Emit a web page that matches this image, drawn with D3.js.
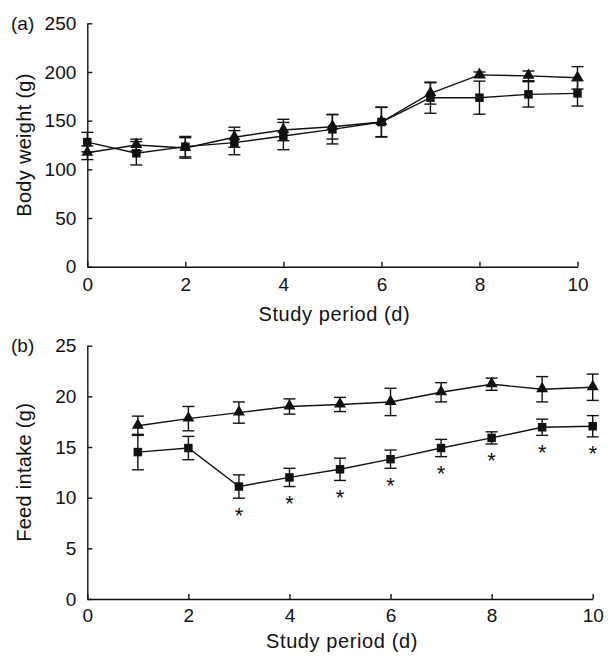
<!DOCTYPE html>
<html>
<head>
<meta charset="utf-8">
<script src="https://cdn.jsdelivr.net/npm/d3@7"></script>
<style>
  html, body { margin: 0; padding: 0; background: #fff; }
  svg { display: block; }
  text { font-family: "Liberation Sans", Arial, Helvetica, sans-serif; fill: #111; }
</style>
</head>
<body>
<svg id="chart" width="613" height="660"></svg>
<script>
// ---- Data ----
const daysA = [0, 1, 2, 3, 4, 5, 6, 7, 8, 9, 10];
const bodyWeightSquare = [128, 116.5, 123.3, 127.4, 134.2, 141.1, 148.6, 173.6, 173.6, 177, 178];
const bodyWeightSquareErr = [10, 12, 10.5, 12.4, 14, 15, 15.4, 16, 17, 13, 13];
const bodyWeightTriangle = [117, 125, 122, 133, 140.4, 143.8, 148.6, 178, 197, 196, 194];
const bodyWeightTriangleErr = [7, 6, 10.5, 10.3, 11, 12.7, 15, 11, 3, 5, 11.5];

const daysB = [1, 2, 3, 4, 5, 6, 7, 8, 9, 10];
const feedTriangle = [17.1, 17.8, 18.4, 19.0, 19.2, 19.45, 20.4, 21.2, 20.7, 20.9];
const feedTriangleErr = [0.95, 1.2, 1.05, 0.75, 0.7, 1.35, 0.95, 0.6, 1.25, 1.3];
const feedSquare = [14.5, 14.9, 11.1, 12.0, 12.8, 13.8, 14.9, 15.9, 16.95, 17.05];
const feedSquareErr = [1.75, 1.15, 1.15, 0.9, 1.1, 0.9, 0.85, 0.6, 0.8, 1.05];
const feedSignificant = [false, false, true, true, true, true, true, true, true, true];

const xTicks = [0, 2, 4, 6, 8, 10];
const yTicksA = [0, 50, 100, 150, 200, 250];
const yTicksB = [0, 5, 10, 15, 20, 25];

// ---- Drawing ----
const svg = d3.select("#chart");
const SW = 1.4;

function panel(cfg) {
  const x = d3.scaleLinear().domain([0, 10]).range([cfg.x0, cfg.x1]);
  const y = d3.scaleLinear().domain(cfg.yDomain).range([cfg.yBottom, cfg.yTop]);
  const g = svg.append("g");

  // axes
  const ax = g.append("g").attr("transform", `translate(0,${cfg.yBottom})`)
    .call(d3.axisBottom(x).tickValues(xTicks).tickSizeInner(-5).tickSizeOuter(0).tickPadding(cfg.xPad));
  const ay = g.append("g").attr("transform", `translate(${cfg.x0},0)`)
    .call(d3.axisLeft(y).tickValues(cfg.yTicks).tickSizeInner(-5).tickSizeOuter(0).tickPadding(11));
  [ax, ay].forEach(a => {
    a.selectAll("path.domain").attr("stroke", "#111").attr("stroke-width", SW);
    a.selectAll(".tick line").attr("stroke", "#111").attr("stroke-width", SW);
    a.selectAll(".tick text").attr("font-size", 19).attr("fill", "#111")
      .style("font-family", '"Liberation Sans", Arial, sans-serif');
  });

  // axis titles
  g.append("text").attr("x", (cfg.x0 + cfg.x1) / 2 + 2).attr("y", cfg.xTitleY)
    .attr("text-anchor", "middle").attr("font-size", 20).attr("letter-spacing", 0.6)
    .text("Study period (d)");
  g.append("text")
    .attr("transform", `translate(31,${(cfg.yTop + cfg.yBottom) / 2}) rotate(-90)`)
    .attr("text-anchor", "middle").attr("font-size", 20).attr("letter-spacing", 0.3)
    .text(cfg.yTitle);
  g.append("text").attr("x", 11).attr("y", cfg.yTop).attr("dy", "0.35em")
    .attr("font-size", 19).text(cfg.label);

  const line = d3.line().x(d => x(d.d)).y(d => y(d.v));

  cfg.series.forEach(s => {
    const pts = cfg.days.map((d, i) => ({ d, v: s.values[i], e: s.errs[i], sig: s.sig ? s.sig[i] : false }));
    // line
    g.append("path").datum(pts).attr("d", line)
      .attr("fill", "none").attr("stroke", "#111").attr("stroke-width", SW);
    // error bars
    const eb = g.append("g").attr("stroke", "#111").attr("stroke-width", SW);
    eb.selectAll("line.v").data(pts).join("line")
      .attr("x1", d => x(d.d)).attr("x2", d => x(d.d))
      .attr("y1", d => y(d.v - d.e)).attr("y2", d => y(d.v + d.e));
    eb.selectAll("line.top").data(pts).join("line")
      .attr("x1", d => x(d.d) - 6).attr("x2", d => x(d.d) + 6)
      .attr("y1", d => y(d.v + d.e)).attr("y2", d => y(d.v + d.e));
    eb.selectAll("line.bot").data(pts).join("line")
      .attr("x1", d => x(d.d) - 6).attr("x2", d => x(d.d) + 6)
      .attr("y1", d => y(d.v - d.e)).attr("y2", d => y(d.v - d.e));
    // markers
    const sym = d3.symbol().type(s.shape === "square" ? d3.symbolSquare : d3.symbolTriangle)
      .size(s.shape === "square" ? 72 : 62);
    g.selectAll(null).data(pts).join("path")
      .attr("d", sym)
      .attr("transform", d => `translate(${x(d.d)},${y(d.v) + (s.shape === "square" ? 0 : -0.5)})`)
      .attr("fill", "#111");
    // significance asterisks
    g.selectAll(null).data(pts.filter(p => p.sig)).join("text")
      .attr("x", d => x(d.d)).attr("y", d => y(d.v - d.e) + 12.5 + 12)
      .attr("text-anchor", "middle").attr("font-size", 22).text("*");
  });
}

panel({
  x0: 87.3, x1: 577.5, yTop: 23.3, yBottom: 266.7, yDomain: [0, 250], yTicks: yTicksA,
  xPad: 11, xTitleY: 321, yTitle: "Body weight (g)", label: "(a)", days: daysA,
  series: [
    { shape: "square", values: bodyWeightSquare, errs: bodyWeightSquareErr },
    { shape: "triangle", values: bodyWeightTriangle, errs: bodyWeightTriangleErr }
  ]
});

panel({
  x0: 87.3, x1: 592.7, yTop: 345.7, yBottom: 599, yDomain: [0, 25], yTicks: yTicksB,
  xPad: 10, xTitleY: 648, yTitle: "Feed intake (g)", label: "(b)", days: daysB,
  series: [
    { shape: "triangle", values: feedTriangle, errs: feedTriangleErr },
    { shape: "square", values: feedSquare, errs: feedSquareErr, sig: feedSignificant }
  ]
});
</script>
</body>
</html>
